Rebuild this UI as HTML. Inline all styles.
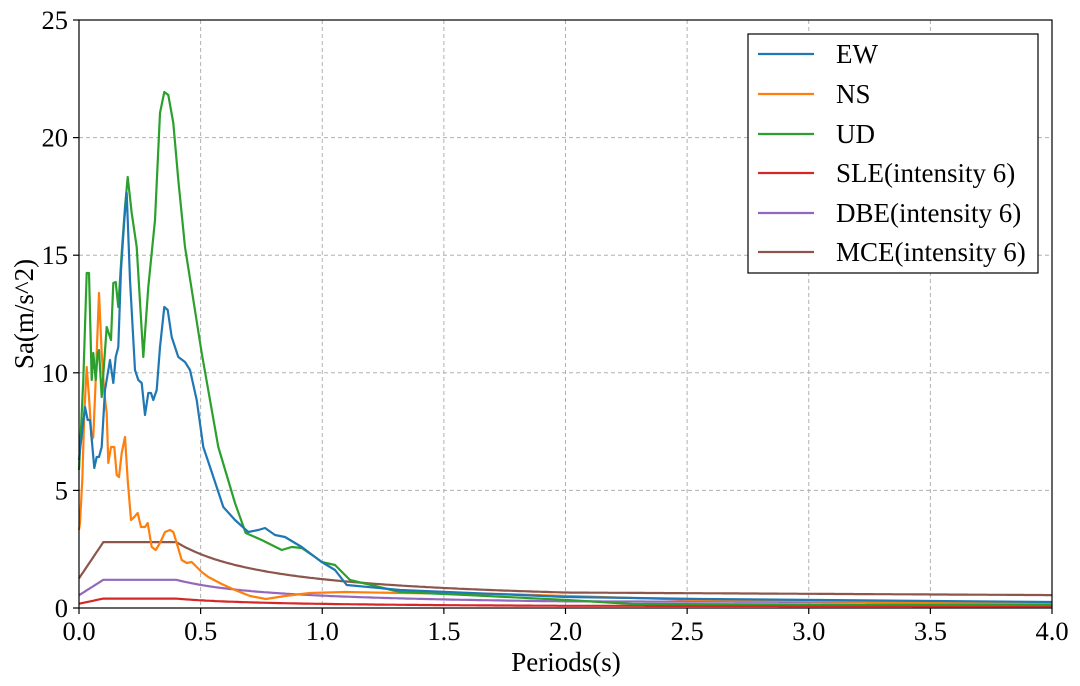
<!DOCTYPE html>
<html><head><meta charset="utf-8"><style>
body{margin:0;background:#fff}
svg{display:block;font-family:"Liberation Serif",serif}
</style></head><body>
<svg id="s" width="1080" height="686" viewBox="0 0 1080 686" xmlns="http://www.w3.org/2000/svg">
<rect width="1080" height="686" fill="#fff"/>
<g id="grid" stroke="#b0b0b0" stroke-width="1" stroke-dasharray="4,3"></g>
<g id="curves" fill="none" stroke-width="2.2" stroke-linejoin="round"></g>
<rect x="79" y="20" width="973" height="588" fill="none" stroke="#000" stroke-width="1.2"/>
<g id="ticks" stroke="#000" stroke-width="1.2"></g>
<g id="labels" font-size="26.5" fill="#000"></g>
<text x="566" y="671" font-size="27" text-anchor="middle">Periods(s)</text>
<text transform="translate(33,314) rotate(-90)" font-size="27" text-anchor="middle">Sa(m/s^2)</text>
<g>
<rect x="748" y="34" width="290" height="239" fill="#fff" stroke="#000" stroke-width="1.2"/>
<g stroke-width="2.2">
<line x1="758" x2="814" y1="54" y2="54" stroke="#1f77b4"/>
<line x1="758" x2="814" y1="94" y2="94" stroke="#ff7f0e"/>
<line x1="758" x2="814" y1="134" y2="134" stroke="#2ca02c"/>
<line x1="758" x2="814" y1="173" y2="173" stroke="#d62728"/>
<line x1="758" x2="814" y1="213" y2="213" stroke="#9467bd"/>
<line x1="758" x2="814" y1="252" y2="252" stroke="#8c564b"/>
</g>
<g font-size="27">
<text x="836" y="63">EW</text>
<text x="836" y="103">NS</text>
<text x="836" y="143">UD</text>
<text x="836" y="182">SLE(intensity 6)</text>
<text x="836" y="222">DBE(intensity 6)</text>
<text x="836" y="261">MCE(intensity 6)</text>
</g>
</g>
</svg>
<script>
const NS="http://www.w3.org/2000/svg";
const X=t=>79+t*243.25, Y=v=>608-v*23.52;
const g=document.getElementById('grid'),tk=document.getElementById('ticks'),lb=document.getElementById('labels'),cv=document.getElementById('curves');
function el(p,tag,a,txt){const e=document.createElementNS(NS,tag);for(const k in a)e.setAttribute(k,a[k]);if(txt)e.textContent=txt;p.appendChild(e);return e;}
for(let i=0;i<=8;i++){const x=X(i*0.5);
 if(i>0&&i<8)el(g,'line',{x1:x,x2:x,y1:20,y2:608});
 el(tk,'line',{x1:x,x2:x,y1:608,y2:614});
 el(lb,'text',{x:x,y:640,'text-anchor':'middle'},(i*0.5).toFixed(1));}
for(let i=0;i<=5;i++){const y=Y(i*5);
 if(i>0&&i<5)el(g,'line',{x1:79,x2:1052,y1:y,y2:y});
 el(tk,'line',{x1:73,x2:79,y1:y,y2:y});
 el(lb,'text',{x:68,y:y+9,'text-anchor':'end'},String(i*5));}
function poly(pts,c){el(cv,'polyline',{points:pts.map(p=>p.join(',')).join(' '),stroke:c});}
function spec(a){const p=[];for(let t=0;t<=4.0001;t+=0.01){let v;
 if(t<0.1)v=a*(0.45+0.55*t/0.1);else if(t<=0.4)v=a;else if(t<=2)v=a*Math.pow(0.4/t,0.9);
 else{const v2=a*Math.pow(0.2,0.9),v4=a*0.196;v=v2+(v4-v2)*(t-2)/2;}
 p.push([X(t).toFixed(1),Y(v).toFixed(1)]);}return p;}
poly(spec(0.4),'#d62728');poly(spec(1.2),'#9467bd');poly(spec(2.8),'#8c564b');
poly([[79,530],[80,523],[82.3,480],[84.3,413],[86.7,367],[89,397],[91.7,440],[93.3,437],[95.7,380],[99,293],[101.7,353],[104.3,393],[106.7,413],[108.3,463],[111,447],[114.3,447],[116.7,475],[119,477],[121.7,453],[125,437],[127.7,480],[131,520],[134.3,517],[137.7,513],[141,527],[145,527],[147.7,523],[151.7,547],[155.7,550],[160,543],[165,532],[170,530],[173.3,532],[176.7,543],[181.7,560],[186.7,563],[191.7,562],[196.7,567],[201.7,572],[208.3,577],[221.7,584],[235,590],[250,596],[266,599],[285,596],[310,593],[345,592],[400,593],[500,594],[600,597],[700,600],[1052,604]],'#ff7f0e');
poly([[79,470],[80,450],[83.3,380],[86.7,273],[89,273],[91.7,380],[93.3,353],[95.7,380],[97.7,353],[99,350],[101.7,397],[106.7,327],[111,340],[113.3,283],[115.7,282],[118.3,307],[121.7,253],[125,207],[127.7,177],[131.7,213],[136.7,247],[143.3,357],[148.3,287],[155,220],[160,113],[164.3,92],[168.3,95],[173.3,123],[178.3,180],[185,247],[201.7,353],[218.3,447],[235,503],[245.7,533],[261.7,540],[281.7,550],[291.7,547],[301.7,548],[315,557],[321.7,562],[335,565],[350,580],[400,592],[467,595],[567,600],[633,604],[1052,605]],'#2ca02c');
poly([[79,460],[80,450],[85,407],[87.7,420],[90,420],[94.3,468],[96.7,457],[99,457],[101.7,447],[105,390],[110,360],[113.3,383],[115.7,357],[118.3,347],[121,270],[124.3,220],[126.7,193],[130,280],[135,370],[138.3,380],[141.7,383],[145,415],[148.3,393],[151,393],[153.3,400],[156.7,390],[160,347],[164.3,307],[167.7,310],[171.7,337],[178.3,357],[185,362],[190,370],[196.7,400],[203.3,447],[211.7,472],[223.3,507],[235,520],[248.3,532],[258.3,530],[265,528],[275,535],[285,537],[301.7,547],[321.7,562],[335,570],[346.7,585],[400,590],[567,597],[700,599],[1052,602]],'#1f77b4');
</script>
</body></html>
